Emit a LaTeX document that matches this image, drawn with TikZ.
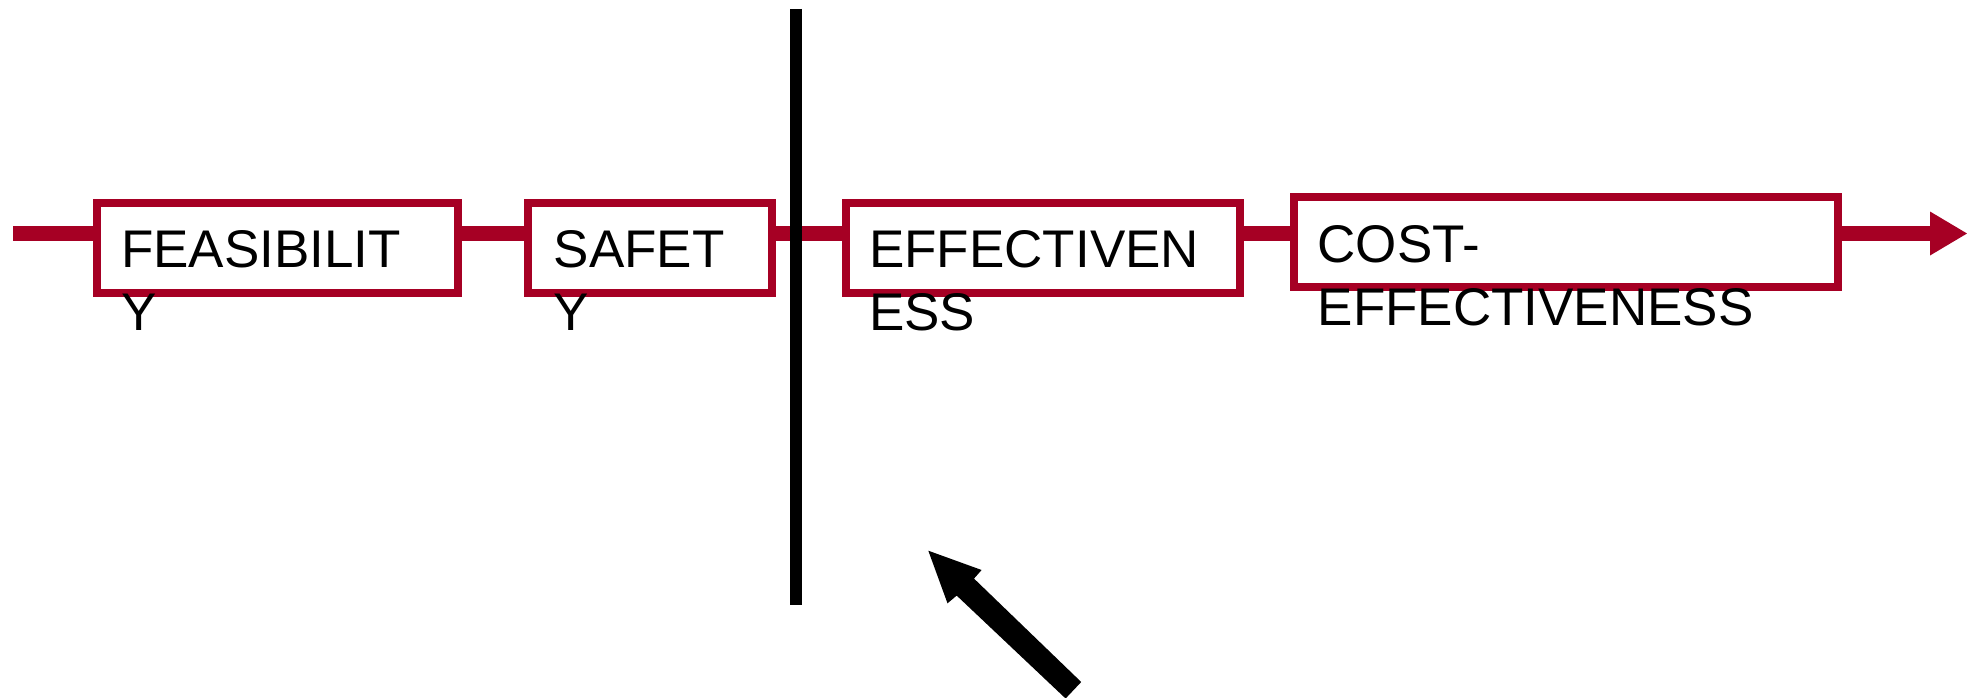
\documentclass[tikz,border=0pt]{standalone}
\usepackage{fontspec}
\setmainfont{Liberation Sans}
\definecolor{barred}{RGB}{166,0,36}
\newcommand{\stagelines}[1]{\begin{tabular}[t]{@{}l@{}}#1\end{tabular}}

\begin{document}
\begin{tikzpicture}[x=1pt,y=-1pt,
  stagebox/.style={draw=barred, line width=8pt, fill=white, inner sep=0pt, minimum height=90.3pt},
  stagetext/.style={anchor=base west, inner sep=0pt, font=\fontsize{53}{62.5}\selectfont, text=black},
  track/.style={draw=barred, line width=14.5pt},
  divider/.style={draw=black, line width=11.5pt}]
\useasboundingbox (0,0) rectangle (1967,698);

% stage boxes along the track
\node[stagebox, minimum width=360.7pt] (b1) at (277.35,248.15) {};
\node[stagebox, minimum width=244pt]   (b2) at (650,248.15) {};
\node[stagebox, minimum width=394.6pt] (b3) at (1043,248.15) {};
\node[stagebox, minimum width=544.5pt] (b4) at (1566,241.9) {};

% track segments between the boxes
\coordinate (start) at (13,233.5);
\coordinate (headbase) at (1932,233.5);
\coordinate (tip) at (1967,233.5);
\draw[track] (start) -- (start -| b1.west);
\draw[track] (b1.east |- start) -- (b2.west |- start);
\draw[track] (b2.east |- start) -- (b3.west |- start);
\draw[track] (b3.east |- start) -- (b4.west |- start);
\draw[track] (b4.east |- start) -- (headbase);
\fill[barred] (1930,211.5) -- (tip) -- (1930,255.5) -- cycle;

% stage names
\node[stagetext] (t1) at (121,267.5)  {\stagelines{FEASIBILIT\\Y}};
\node[stagetext] (t2) at (553.5,267.5) {\stagelines{SAFET\\Y}};
\node[stagetext] (t3) at (869,267.5)  {\stagelines{EFFECTIVEN\\ESS}};
\node[stagetext] (t4) at (1317.5,262.5) {\stagelines{COST-\\EFFECTIVENESS}};

% vertical divider
\coordinate (dtop) at (795.8,9);
\coordinate (dbot) at (795.8,605);
\draw[divider] (dtop) -- (dbot);

% pointer arrow
\fill[black] (928.3,550.7) -- (981.6,570) -- (974,578.6) -- (1081.2,682)
  -- (1065.6,698.5) -- (956.7,595.6) -- (947.5,603.3) -- cycle;
\end{tikzpicture}
\end{document}
